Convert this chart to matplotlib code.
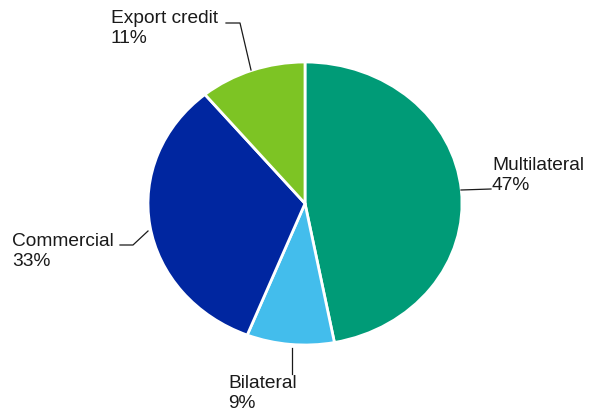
import matplotlib.pyplot as plt

# shares of debt by creditor type (%)
labels = ["Multilateral", "Bilateral", "Commercial", "Export credit"]
values = [47, 9, 33, 11]
colors = ["#009b77", "#43bdec", "#0026a0", "#7dc424"]

plt.rcParams['font.family'] = ['Liberation Sans', 'DejaVu Sans']

fig = plt.figure(figsize=(5.9, 4.12), dpi=100)

# pie axes - pie is slightly wider than tall in the original
ax = fig.add_axes([148 / 590, (412 - 345) / 412, 314 / 590, 283 / 412])
ax.pie(values, colors=colors, startangle=90, counterclock=False,
       radius=1, wedgeprops=dict(edgecolor="white", linewidth=2))
ax.set_aspect('auto')
ax.set_xlim(-1, 1)
ax.set_ylim(-1, 1)
ax.axis('off')

# overlay in pixel coords for labels and leader lines
ov = fig.add_axes([0, 0, 1, 1])
ov.set_xlim(0, 590)
ov.set_ylim(412, 0)
ov.axis('off')
ov.patch.set_alpha(0)

label_pos = {
    "Multilateral": (492, 170),
    "Bilateral": (228, 388),
    "Commercial": (12, 246),
    "Export credit": (111, 23),
}
leaders = {
    "Multilateral": ([461, 491], [190, 189]),
    "Bilateral": ([292, 292], [348, 374]),
    "Commercial": ([120, 133, 148], [245, 245, 231]),
    "Export credit": ([226, 240, 251], [23, 23, 70]),
}

for lab, val in zip(labels, values):
    x, y = label_pos[lab]
    ov.text(x, y, lab, fontsize=13.8, color="#1a1a1a", ha='left', va='baseline')
    ov.text(x, y + 19.5, f"{val}%", fontsize=13.8, color="#1a1a1a", ha='left', va='baseline')
    lx, ly = leaders[lab]
    ov.plot(lx, ly, color="#1a1a1a", linewidth=0.9)

fig.savefig("out.png", dpi=100)
